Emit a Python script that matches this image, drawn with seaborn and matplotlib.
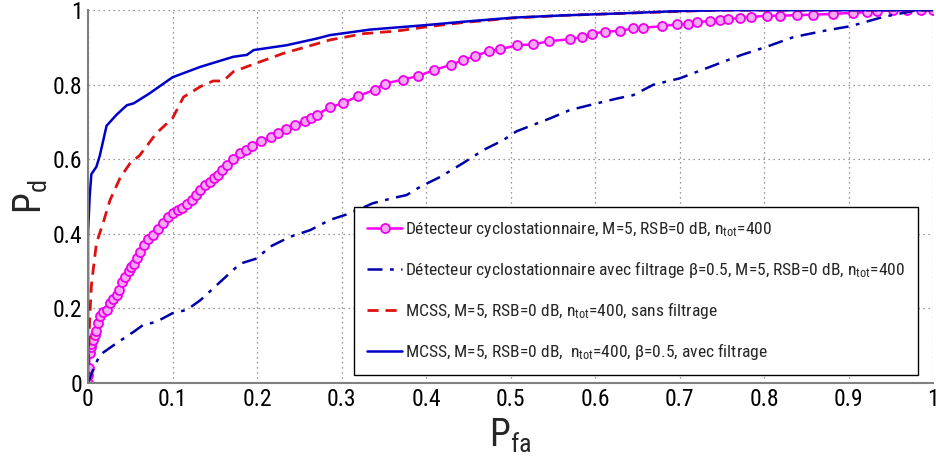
import matplotlib
matplotlib.use("Agg")
import matplotlib.pyplot as plt
from matplotlib import font_manager as fm
import seaborn as sns

# ---------------- data ----------------
cyclo_pfa = [0.0, 0.0, 0.001, 0.002, 0.003, 0.004, 0.006, 0.008, 0.010, 0.012,
             0.014, 0.018, 0.022, 0.026, 0.030, 0.034, 0.037, 0.040, 0.044, 0.048,
             0.051, 0.054, 0.058, 0.062, 0.066, 0.071, 0.077, 0.083, 0.089, 0.095,
             0.100, 0.106, 0.111, 0.117, 0.123, 0.128, 0.133, 0.139, 0.144, 0.149,
             0.154, 0.159, 0.164, 0.172, 0.180, 0.187, 0.194, 0.205, 0.217, 0.225,
             0.234, 0.245, 0.257, 0.264, 0.271, 0.286, 0.302, 0.320, 0.340, 0.351,
             0.373, 0.390, 0.409, 0.430, 0.444, 0.458, 0.475, 0.488, 0.507, 0.526,
             0.546, 0.570, 0.585, 0.596, 0.612, 0.630, 0.645, 0.657, 0.679, 0.697,
             0.710, 0.720, 0.736, 0.748, 0.757, 0.772, 0.785, 0.803, 0.819, 0.839,
             0.858, 0.882, 0.905, 0.922, 0.933, 0.953, 0.969, 0.985, 1.0]
cyclo_pd = [0.0, 0.02, 0.04, 0.08, 0.095, 0.105, 0.115, 0.128, 0.140, 0.160,
            0.180, 0.190, 0.196, 0.214, 0.225, 0.236, 0.250, 0.270, 0.285, 0.300,
            0.310, 0.320, 0.335, 0.350, 0.370, 0.385, 0.397, 0.413, 0.430, 0.445,
            0.457, 0.465, 0.470, 0.480, 0.490, 0.503, 0.517, 0.530, 0.540, 0.550,
            0.557, 0.570, 0.585, 0.600, 0.616, 0.626, 0.636, 0.648, 0.659, 0.670,
            0.680, 0.692, 0.703, 0.712, 0.720, 0.739, 0.751, 0.770, 0.787, 0.803,
            0.814, 0.823, 0.839, 0.854, 0.866, 0.877, 0.891, 0.895, 0.906, 0.908,
            0.917, 0.922, 0.928, 0.937, 0.942, 0.945, 0.951, 0.953, 0.957, 0.962,
            0.964, 0.968, 0.971, 0.973, 0.976, 0.979, 0.982, 0.985, 0.985, 0.987,
            0.988, 0.990, 0.993, 0.995, 0.997, 1.0, 1.0, 1.0, 1.0]

cyclof_pfa = [0.0, 0.006, 0.014, 0.034, 0.054, 0.065, 0.081, 0.100, 0.117, 0.133,
              0.156, 0.180, 0.200, 0.215, 0.239, 0.263, 0.286, 0.310, 0.337, 0.361,
              0.377, 0.393, 0.417, 0.444, 0.468, 0.491, 0.507, 0.547, 0.570, 0.602,
              0.626, 0.645, 0.669, 0.700, 0.736, 0.772, 0.803, 0.835, 0.874, 0.902,
              0.941, 0.981, 1.0]
cyclof_pd = [0.0, 0.035, 0.075, 0.107, 0.137, 0.155, 0.164, 0.187, 0.196, 0.222,
             0.270, 0.320, 0.334, 0.365, 0.392, 0.410, 0.437, 0.455, 0.482, 0.496,
             0.504, 0.526, 0.553, 0.590, 0.625, 0.651, 0.675, 0.710, 0.732, 0.750,
             0.763, 0.772, 0.800, 0.817, 0.848, 0.879, 0.902, 0.928, 0.946, 0.957,
             0.982, 1.0, 1.0]

mcss_pfa = [0.0, 0.001, 0.002, 0.004, 0.006, 0.010, 0.018, 0.026, 0.038, 0.050,
            0.061, 0.081, 0.100, 0.113, 0.133, 0.148, 0.160, 0.172, 0.203, 0.231,
            0.271, 0.286, 0.326, 0.365, 0.400, 0.444, 0.503, 0.562, 0.626, 0.704,
            0.740, 1.0]
mcss_pd = [0.0, 0.10, 0.17, 0.26, 0.30, 0.375, 0.43, 0.49, 0.55, 0.59,
           0.61, 0.67, 0.71, 0.767, 0.795, 0.81, 0.81, 0.835, 0.861, 0.884,
           0.910, 0.920, 0.937, 0.944, 0.955, 0.967, 0.979, 0.986, 0.991, 0.997,
           1.0, 1.0]

mcssf_pfa = [0.0, 0.0, 0.002, 0.004, 0.010, 0.014, 0.022, 0.034, 0.046, 0.054,
             0.073, 0.100, 0.133, 0.172, 0.188, 0.196, 0.235, 0.271, 0.286, 0.334,
             0.400, 0.444, 0.503, 0.562, 0.626, 0.704, 0.760, 1.0]
mcssf_pd = [0.0, 0.40, 0.50, 0.56, 0.58, 0.61, 0.69, 0.72, 0.745, 0.75,
            0.777, 0.82, 0.848, 0.875, 0.88, 0.893, 0.906, 0.924, 0.933, 0.948,
            0.960, 0.969, 0.980, 0.986, 0.991, 0.998, 1.0, 1.0]

labels = [
    "Détecteur cyclostationnaire, M=5, RSB=0 dB, n$_{\\mathrm{tot}}$=400",
    "Détecteur cyclostationnaire avec filtrage β=0.5, M=5, RSB=0 dB, n$_{\\mathrm{tot}}$=400",
    "MCSS, M=5, RSB=0 dB, n$_{\\mathrm{tot}}$=400, sans filtrage",
    "MCSS, M=5, RSB=0 dB,  n$_{\\mathrm{tot}}$=400, β=0.5, avec filtrage",
]
x_ticks = [0, 0.1, 0.2, 0.3, 0.4, 0.5, 0.6, 0.7, 0.8, 0.9, 1]
x_ticklabels = ["0", "0.1", "0.2", "0.3", "0.4", "0.5", "0.6", "0.7", "0.8", "0.9", "1"]
y_ticks = [0, 0.2, 0.4, 0.6, 0.8, 1]
y_ticklabels = ["0", "0.2", "0.4", "0.6", "0.8", "1"]

# ---------------- style ----------------
sns.set_theme(style="white")

# look for a narrow / condensed face among the installed fonts
cond_stretch = ("condensed", "semi-condensed", "extra-condensed", "ultra-condensed")
FONT, STRETCH = "DejaVu Sans", "normal"
cands = [f for f in fm.fontManager.ttflist
         if (f.stretch in cond_stretch or "Narrow" in f.name or "Condensed" in f.name)
         and f.style == "normal"]
pref = ["Liberation Sans Narrow", "Roboto Condensed", "Open Sans Condensed",
        "DejaVu Sans Condensed", "Noto Sans", "Open Sans", "DejaVu Sans", "Roboto"]
cands.sort(key=lambda f: (pref.index(f.name) if f.name in pref else 99))
if cands:
    FONT = cands[0].name
    STRETCH = cands[0].stretch if isinstance(cands[0].stretch, str) else "condensed"
CONDENSED = bool(cands)

plt.rcParams["font.family"] = [FONT, "DejaVu Sans"]
plt.rcParams["font.stretch"] = STRETCH
plt.rcParams["mathtext.fontset"] = "custom"
plt.rcParams["mathtext.rm"] = FONT
plt.rcParams["mathtext.it"] = FONT
plt.rcParams["mathtext.default"] = "regular"

fig = plt.figure(figsize=(9.36, 4.63), dpi=100)
ax = fig.add_axes([0.094, 0.173, 0.903, 0.805])

sns.lineplot(x=cyclo_pfa, y=cyclo_pd, ax=ax, sort=False, estimator=None,
             color="#ff00ff", linewidth=1.8, marker="o", markersize=6.5,
             markeredgecolor="#ee00ee", markerfacecolor="#f7a8f7",
             markeredgewidth=1.3, label=labels[0])
sns.lineplot(x=cyclof_pfa, y=cyclof_pd, ax=ax, sort=False, estimator=None,
             color="#0000aa", linewidth=1.8, linestyle=(0, (6, 3, 1.5, 3)),
             label=labels[1])
sns.lineplot(x=mcss_pfa, y=mcss_pd, ax=ax, sort=False, estimator=None,
             color="#dd1111", linewidth=2.0, linestyle=(0, (4, 2.5)),
             label=labels[2])
sns.lineplot(x=mcssf_pfa, y=mcssf_pd, ax=ax, sort=False, estimator=None,
             color="#0000cc", linewidth=1.8, linestyle="-",
             label=labels[3])

ax.set_xlim(0, 1)
ax.set_ylim(0, 1)
ax.set_xticks(x_ticks)
ax.set_xticklabels(x_ticklabels)
ax.set_yticks(y_ticks)
ax.set_yticklabels(y_ticklabels)
tick_fs = 17 if CONDENSED else 13
ax.tick_params(axis="both", direction="in", length=5, width=1, color="#808080",
               labelsize=tick_fs, pad=4, labelcolor="black")
ax.grid(True, linestyle=(0, (1, 3)), color="#777777", linewidth=0.9)
for s in ["top", "right"]:
    ax.spines[s].set_visible(False)
for s in ["left", "bottom"]:
    ax.spines[s].set_color("#808080")
    ax.spines[s].set_linewidth(1.5)

ax.set_xlabel("P$_{fa}$", fontsize=27, labelpad=4)
ax.set_ylabel("P$_{d}$", fontsize=27, labelpad=2)


def make_legend(fs):
    lg = ax.legend(loc="lower right", bbox_to_anchor=(0.982, 0.02),
                   fontsize=fs, frameon=True, fancybox=False,
                   edgecolor="black", framealpha=1, handlelength=2.0,
                   handletextpad=0.15, labelspacing=1.15, borderpad=0.75,
                   borderaxespad=0)
    lg.get_frame().set_linewidth(1.0)
    return lg


# size the legend text so the third entry is about as wide as in the reference
fs = 14.0
leg = make_legend(fs)
fig.canvas.draw()
r = fig.canvas.get_renderer()
w = leg.get_texts()[2].get_window_extent(r).width
target = 313.0
fs = max(9.0, min(17.0, fs * target / w))
leg = make_legend(fs)

fig.savefig("out.png", dpi=100)
